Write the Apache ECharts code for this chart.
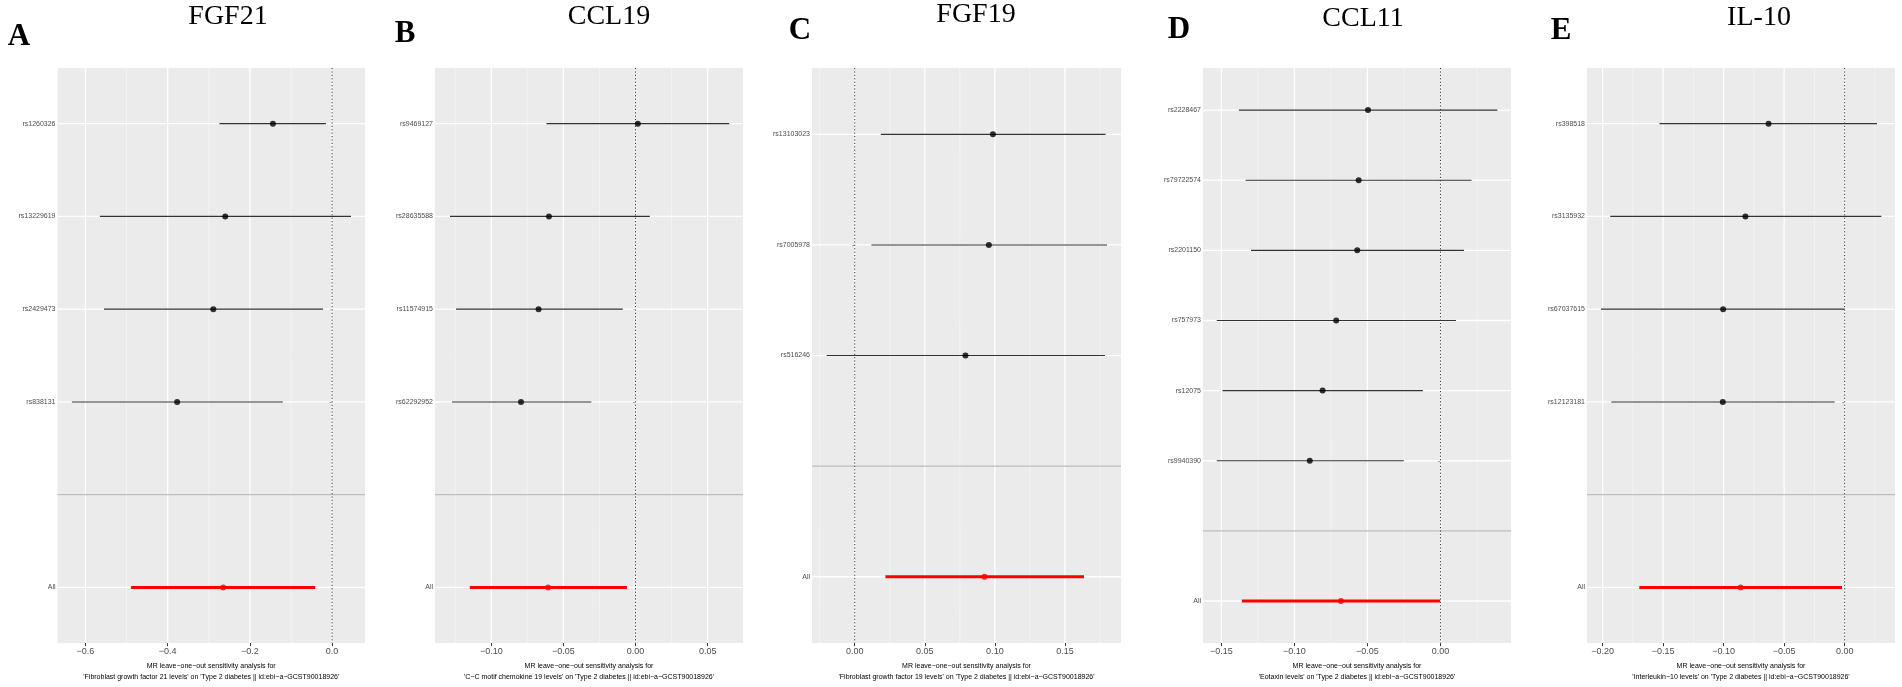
<!DOCTYPE html>
<html>
<head>
<meta charset="utf-8">
<script src="https://cdn.jsdelivr.net/npm/echarts@6/dist/echarts.min.js"></script>
<style>
  html, body { margin: 0; padding: 0; background: #fff; }
  #main { width: 1902px; height: 687px; }
</style>
</head>
<body>
<div id="main"></div>
<script>
// ---- data (last entry of each list is "All") ----
var fgf21Snps = ['rs1260326', 'rs13229619', 'rs2429473', 'rs838131', 'All'];
var fgf21Est = [-0.144, -0.260, -0.289, -0.377, -0.265];
var fgf21Lo = [-0.274, -0.565, -0.555, -0.633, -0.489];
var fgf21Hi = [-0.015, 0.046, -0.022, -0.120, -0.041];

var ccl19Snps = ['rs9469127', 'rs28635588', 'rs11574915', 'rs62292952', 'All'];
var ccl19Est = [0.0016, -0.0600, -0.0672, -0.0794, -0.0606];
var ccl19Lo = [-0.0617, -0.1286, -0.1244, -0.1272, -0.1149];
var ccl19Hi = [0.0649, 0.0099, -0.0088, -0.0306, -0.0059];

var fgf19Snps = ['rs13103023', 'rs7005978', 'rs516246', 'All'];
var fgf19Est = [0.0986, 0.0957, 0.0790, 0.0926];
var fgf19Lo = [0.0186, 0.0119, -0.0200, 0.0219];
var fgf19Hi = [0.1790, 0.1800, 0.1786, 0.1636];

var ccl11Snps = ['rs2228467', 'rs79722574', 'rs2201150', 'rs757973', 'rs12075', 'rs9940390', 'All'];
var ccl11Est = [-0.0496, -0.0560, -0.0570, -0.0714, -0.0807, -0.0895, -0.0682];
var ccl11Lo = [-0.1380, -0.1334, -0.1297, -0.1532, -0.1492, -0.1532, -0.1360];
var ccl11Hi = [0.0390, 0.0213, 0.0161, 0.0106, -0.0121, -0.0251, -0.0002];

var il10Snps = ['rs398518', 'rs3135932', 'rs67037615', 'rs12123181', 'All'];
var il10Est = [-0.0629, -0.0820, -0.1004, -0.1007, -0.0860];
var il10Lo = [-0.1530, -0.1937, -0.2014, -0.1928, -0.1697];
var il10Hi = [0.0267, 0.0303, 0.0000, -0.0083, -0.0022];

// tick values
var fgf21Major = [-0.6, -0.4, -0.2, 0.0];
var fgf21Minor = [-0.5, -0.3, -0.1];
var ccl19Major = [-0.10, -0.05, 0.00, 0.05];
var ccl19Minor = [-0.125, -0.075, -0.025, 0.025];
var fgf19Major = [0.00, 0.05, 0.10, 0.15];
var fgf19Minor = [-0.025, 0.025, 0.075, 0.125, 0.175];
var ccl11Major = [-0.15, -0.10, -0.05, 0.00];
var ccl11Minor = [-0.125, -0.075, -0.025, 0.025];
var il10Major = [-0.20, -0.15, -0.10, -0.05, 0.00];
var il10Minor = [-0.175, -0.125, -0.075, -0.025, 0.025];

var outcome = " on 'Type 2 diabetes || id:ebi\u2212a\u2212GCST90018926'";

var panels = [
  { letter: 'A', title: 'FGF21', snps: fgf21Snps, est: fgf21Est, lo: fgf21Lo, hi: fgf21Hi,
    major: fgf21Major, minor: fgf21Minor, dec: 1, exposure: "'Fibroblast growth factor 21 levels'",
    min: -0.668, max: 0.080, left: 57.5, width: 307.5, titleX: 228, titleY: 17, letterX: 19, letterY: 37 },
  { letter: 'B', title: 'CCL19', snps: ccl19Snps, est: ccl19Est, lo: ccl19Lo, hi: ccl19Hi,
    major: ccl19Major, minor: ccl19Minor, dec: 2, exposure: "'C\u2212C motif chemokine 19 levels'",
    min: -0.139, max: 0.0745, left: 435, width: 308, titleX: 609, titleY: 17, letterX: 405, letterY: 34 },
  { letter: 'C', title: 'FGF19', snps: fgf19Snps, est: fgf19Est, lo: fgf19Lo, hi: fgf19Hi,
    major: fgf19Major, minor: fgf19Minor, dec: 2, exposure: "'Fibroblast growth factor 19 levels'",
    min: -0.0305, max: 0.19, left: 812, width: 309, titleX: 976, titleY: 15, letterX: 800, letterY: 31 },
  { letter: 'D', title: 'CCL11', snps: ccl11Snps, est: ccl11Est, lo: ccl11Lo, hi: ccl11Hi,
    major: ccl11Major, minor: ccl11Minor, dec: 2, exposure: "'Eotaxin levels'",
    min: -0.1626, max: 0.0483, left: 1203, width: 308, titleX: 1363, titleY: 19, letterX: 1179, letterY: 30 },
  { letter: 'E', title: 'IL-10', snps: il10Snps, est: il10Est, lo: il10Lo, hi: il10Hi,
    major: il10Major, minor: il10Minor, dec: 2, exposure: "'Interleukin\u221210 levels'",
    min: -0.2129, max: 0.0416, left: 1587, width: 308, titleX: 1759, titleY: 18, letterX: 1561, letterY: 31 }
];

var sansFont = "'Liberation Sans', Arial, sans-serif";
var plotTop = 68;
var plotHeight = 576;

function fmtTick(dec) {
  return function (v) {
    var s = Math.abs(v).toFixed(dec);
    return (v < -1e-9 ? '\u2212' : '') + s;
  };
}

// gridline kinds: 0 minor vertical, 1 major vertical, 2 row line, 3 separator, 4 zero dotted
function renderGrid(params, api) {
  var kind = api.value(0);
  var v = api.value(1);
  var cs = params.coordSys;
  var shape, style, z2;
  if (kind === 0 || kind === 1 || kind === 4) {
    var x = api.coord([v, 1])[0];
    shape = { x1: x, y1: cs.y, x2: x, y2: cs.y + cs.height };
  } else {
    var y = api.coord([0, v])[1];
    shape = { x1: cs.x, y1: y, x2: cs.x + cs.width, y2: y };
  }
  if (kind === 0) { style = { stroke: '#f7f7f7', lineWidth: 0.7 }; z2 = 1; }
  else if (kind === 1 || kind === 2) { style = { stroke: '#ffffff', lineWidth: 1.3 }; z2 = 2; }
  else if (kind === 3) { style = { stroke: '#bebebe', lineWidth: 1.3 }; z2 = 3; }
  else { style = { stroke: '#333333', lineWidth: 1, lineDash: [1.2, 2.2] }; z2 = 4; }
  return { type: 'line', shape: shape, style: style, z2: z2, silent: true };
}

function renderBar(params, api) {
  var p1 = api.coord([api.value(0), api.value(2)]);
  var p2 = api.coord([api.value(1), api.value(2)]);
  var isAll = api.value(3) === 1;
  return {
    type: 'line',
    shape: { x1: p1[0], y1: p1[1], x2: p2[0], y2: p2[1] },
    style: isAll ? { stroke: '#ff0000', lineWidth: 3 } : { stroke: '#333333', lineWidth: 1.1 }
  };
}

var grids = [], xAxes = [], yAxes = [], series = [], graphics = [];

panels.forEach(function (p, i) {
  var n = p.snps.length;          // includes All
  var top = n + 1;                // levels: All = 1, blank = 2, snps n+1 .. 3
  var levels = [], names = {}, barData = [], pointData = [], gridData = [];
  p.snps.forEach(function (name, k) {
    var lev = (k === n - 1) ? 1 : top - k;
    levels.push(lev);
    names[lev] = name;
    var all = (k === n - 1) ? 1 : 0;
    barData.push([p.lo[k], p.hi[k], lev, all]);
    pointData.push({ value: [p.est[k], lev], itemStyle: { color: all ? '#ff0000' : '#000000' } });
  });
  levels.sort(function (a, b) { return a - b; });

  p.minor.forEach(function (v) { gridData.push([0, v]); });
  p.major.forEach(function (v) { gridData.push([1, v]); });
  levels.forEach(function (v) { gridData.push([2, v]); });
  gridData.push([3, 2]);
  gridData.push([4, 0]);

  grids.push({
    left: p.left, top: plotTop, width: p.width, height: plotHeight,
    show: true, backgroundColor: '#ebebeb', borderWidth: 0
  });
  xAxes.push({
    gridIndex: i, type: 'value', min: p.min, max: p.max,
    axisLine: { show: false },
    axisTick: { show: true, customValues: p.major, length: 3, lineStyle: { color: '#333', width: 1 } },
    axisLabel: { customValues: p.major, formatter: fmtTick(p.dec), fontSize: 9, color: '#4d4d4d',
      margin: 4, fontFamily: sansFont },
    splitLine: { show: false },
    name: 'MR leave\u2212one\u2212out sensitivity analysis for\n' + p.exposure + outcome,
    nameLocation: 'middle', nameGap: 15,
    nameTextStyle: { fontSize: 7, color: '#000', fontFamily: sansFont, lineHeight: 10.5 }
  });
  yAxes.push({
    gridIndex: i, type: 'value', min: 0.4, max: top + 0.6,
    axisLine: { show: false },
    axisTick: { show: true, customValues: levels, length: 2.5, lineStyle: { color: '#333', width: 1 } },
    axisLabel: { customValues: levels, formatter: function (v) { return names[Math.round(v)] || ''; },
      fontSize: 7, color: '#4d4d4d', margin: 2, fontFamily: sansFont },
    splitLine: { show: false }
  });
  series.push({
    type: 'custom', xAxisIndex: i, yAxisIndex: i, renderItem: renderGrid,
    data: gridData, silent: true, z: 1, animation: false
  });
  series.push({
    type: 'custom', xAxisIndex: i, yAxisIndex: i, renderItem: renderBar,
    data: barData, silent: true, z: 3, animation: false
  });
  series.push({
    type: 'scatter', xAxisIndex: i, yAxisIndex: i, data: pointData,
    symbol: 'circle', symbolSize: 6, silent: true, z: 4, animation: false
  });

  graphics.push({
    type: 'text', x: p.titleX, y: p.titleY,
    style: { text: p.title, font: '28px "Liberation Serif", "Times New Roman", serif', fill: '#000',
      align: 'center', verticalAlign: 'middle' }
  });
  graphics.push({
    type: 'text', x: p.letterX, y: p.letterY,
    style: { text: p.letter, font: 'bold 31px "Liberation Serif", "Times New Roman", serif', fill: '#000',
      align: 'center', verticalAlign: 'middle' }
  });
});

var option = {
  backgroundColor: '#fff',
  animation: false,
  grid: grids,
  xAxis: xAxes,
  yAxis: yAxes,
  series: series,
  graphic: graphics
};

var myChart = echarts.init(document.getElementById('main'), null, { renderer: 'canvas' });
myChart.setOption(option);
window.addEventListener('resize', myChart.resize);
</script>
</body>
</html>
